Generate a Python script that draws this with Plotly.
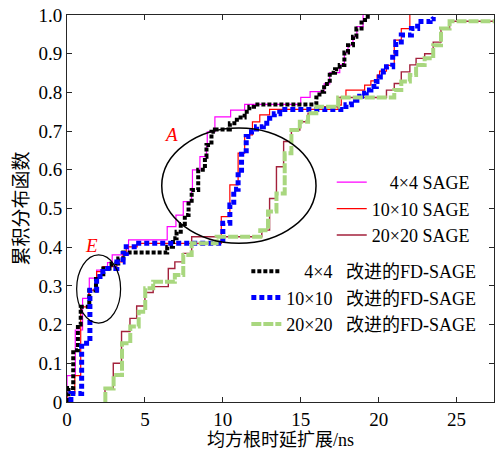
import plotly.graph_objects as go

# ---------------- data ----------------
# 4x4 SAGE (magenta)
x_sage_4 = [0, 0.53, 1.0, 1.43, 1.9, 2.6, 2.9, 3.95, 6.43, 6.99, 7.46, 7.99, 8.05, 8.53, 8.95, 9.0,
            9.49, 10.5, 11.4, 15.0, 15.6, 16.5, 16.86, 17.5, 17.8, 18.03, 18.35, 18.6, 19.0]
y_sage_4 = [0.068, 0.186, 0.268, 0.32, 0.341, 0.36, 0.38, 0.419, 0.453, 0.483, 0.518, 0.552, 0.6, 0.634,
            0.66, 0.698, 0.737, 0.754, 0.769, 0.787, 0.802, 0.822, 0.851, 0.871, 0.903, 0.922, 0.944,
            0.97, 1.0]

# 10x10 SAGE (red)
x_sage_10 = [0, 0.5, 0.88, 1.4, 1.9, 2.3, 3.2, 3.6, 3.8, 4.5, 9.9, 10.45, 10.98, 11.4, 11.9, 12.37,
             13.0, 17.4, 17.6, 17.9, 19.1, 19.5, 19.9, 20.06, 20.5, 21.0, 21.45, 22.0]
y_sage_10 = [0.022, 0.068, 0.246, 0.289, 0.337, 0.35, 0.362, 0.384, 0.401, 0.41, 0.479, 0.561, 0.643,
             0.69, 0.724, 0.742, 0.756, 0.767, 0.789, 0.806, 0.819, 0.83, 0.845, 0.855, 0.87, 0.935,
             0.965, 1.0]

# 20x20 SAGE (dark red)
x_sage_20 = [2.44, 2.97, 3.5, 4.04, 4.47, 5.0, 5.53, 6.5, 6.92, 7.46, 8.0, 12.5, 13.0, 13.44, 13.9,
             14.4, 14.94, 15.47, 16.0, 17.4, 20.5, 21.0, 21.45, 22.0, 22.4, 22.95, 23.5, 24.0, 24.55, 28.0]
y_sage_20 = [0.035, 0.1, 0.182, 0.216, 0.248, 0.283, 0.298, 0.345, 0.362, 0.384, 0.427, 0.444, 0.526,
             0.608, 0.673, 0.703, 0.724, 0.746, 0.763, 0.787, 0.806, 0.823, 0.853, 0.871, 0.888, 0.9,
             0.93, 0.965, 0.984, 0.984]

# 4x4 improved FD-SAGE (black)
x_fd_4 = [0, 0.1, 0.4, 0.7, 0.88, 1.43, 1.86, 2.33, 2.86, 3.29, 3.61, 6.43, 6.8, 7.03, 7.3, 7.56, 7.8,
          8.0, 8.42, 8.85, 8.95, 9.27, 9.49, 10.45, 10.9, 11.4, 11.7, 12.0, 16.0, 16.2, 16.5, 16.86,
          17.2, 17.5, 17.8, 18.03, 18.35, 18.57, 18.9, 19.3]
y_fd_4 = [0.02, 0.036, 0.134, 0.2, 0.246, 0.288, 0.324, 0.345, 0.358, 0.371, 0.386, 0.401, 0.423, 0.44,
          0.46, 0.483, 0.52, 0.548, 0.6, 0.634, 0.664, 0.698, 0.704, 0.72, 0.735, 0.75, 0.763, 0.769,
          0.787, 0.802, 0.822, 0.851, 0.86, 0.871, 0.903, 0.922, 0.944, 0.965, 0.987, 1.0]

# 10x10 improved FD-SAGE (blue)
x_fd_10 = [0.25, 0.94, 1.47, 1.9, 2.3, 3.2, 3.6, 3.8, 4.6, 10.0, 10.45, 10.7, 10.98, 11.2, 11.5, 11.84,
           12.16, 12.6, 13.0, 13.3, 13.65, 17.9, 18.25, 18.6, 18.9, 19.2, 19.5, 19.85, 20.06, 20.3,
           20.5, 20.9, 21.1, 21.45, 22.1, 22.5, 23.3, 23.5]
y_fd_10 = [0.022, 0.152, 0.289, 0.324, 0.345, 0.362, 0.384, 0.401, 0.41, 0.462, 0.509, 0.55, 0.587,
           0.64, 0.686, 0.698, 0.711, 0.72, 0.733, 0.745, 0.756, 0.768, 0.78, 0.79, 0.798, 0.806, 0.815,
           0.828, 0.84, 0.855, 0.866, 0.9, 0.93, 0.948, 0.965, 0.983, 0.99, 0.995]

# 20x20 improved FD-SAGE (light green)
x_fd_20 = [2.46, 2.99, 3.53, 4.06, 4.6, 5.02, 5.53, 6.92, 7.46, 8.0, 9.6, 12.4, 12.9, 13.44, 13.97,
           14.4, 14.94, 15.47, 16.0, 17.4, 21.0, 21.45, 22.0, 22.4, 22.95, 23.5, 24.0, 24.55, 28.0]
y_fd_20 = [0.035, 0.07, 0.152, 0.195, 0.233, 0.294, 0.311, 0.328, 0.38, 0.41, 0.427, 0.444, 0.492,
           0.539, 0.643, 0.703, 0.724, 0.746, 0.763, 0.787, 0.806, 0.828, 0.845, 0.871, 0.888, 0.922,
           0.965, 0.984, 0.984]

x_ticks = [0, 5, 10, 15, 20, 25]
y_ticks = [0, 0.1, 0.2, 0.3, 0.4, 0.5, 0.6, 0.7, 0.8, 0.9, 1.0]
y_tick_text = ["0", "0.1", "0.2", "0.3", "0.4", "0.5", "0.6", "0.7", "0.8", "0.9", "1.0"]

x_title = "均方根时延扩展/ns"
y_title = "累积分布函数"

FONT = "Liberation Serif, Times New Roman, Noto Sans CJK SC"
FS = "\u2007"  # figure space, digit-width padding

series = [
    (x_sage_4, y_sage_4, FS + FS + "4×4 SAGE", dict(color="#FF00FF", width=1.2), "legend"),
    (x_sage_10, y_sage_10, "10×10 SAGE", dict(color="#FF0000", width=1.2), "legend"),
    (x_sage_20, y_sage_20, "20×20 SAGE", dict(color="#A3213B", width=1.4), "legend"),
    (x_fd_4, y_fd_4, FS + FS + "4×4" + FS + " 改进的FD-SAGE", dict(color="#000000", width=4, dash="4px,2px"), "legend2"),
    (x_fd_10, y_fd_10, "10×10" + FS + " 改进的FD-SAGE", dict(color="#0000FF", width=5, dash="5px,3px"), "legend2"),
    (x_fd_20, y_fd_20, "20×20" + FS + " 改进的FD-SAGE", dict(color="#A9D77F", width=4, dash="10px,2px"), "legend2"),
]

fig = go.Figure()
for xs, ys, name, line, lg in series:
    fig.add_trace(go.Scatter(
        x=[xs[0]] + xs, y=[0] + ys, mode="lines", line_shape="hv",
        line=line, name=name, legend=lg,
    ))

# ellipses A and E
fig.add_shape(type="circle", xref="x", yref="y", x0=6.08, x1=15.98, y0=0.41, y1=0.708,
              line=dict(color="black", width=1.5))
fig.add_shape(type="circle", xref="x", yref="y", x0=0.62, x1=3.44, y0=0.204, y1=0.38,
              line=dict(color="black", width=1.2))
fig.add_annotation(x=6.7, y=0.69, text="<i>A</i>", showarrow=False,
                   font=dict(family=FONT, size=19, color="#FF0000"))
fig.add_annotation(x=1.6, y=0.405, text="<i>E</i>", showarrow=False,
                   font=dict(family=FONT, size=19, color="#FF0000"))

axis_common = dict(showline=True, linecolor="#262626", linewidth=1, mirror="ticks",
                   ticks="inside", ticklen=5, tickcolor="#262626", showgrid=False,
                   zeroline=False, automargin=False,
                   tickfont=dict(family=FONT, size=19, color="black"))

fig.update_layout(
    width=495, height=454,
    margin=dict(l=67, r=1, t=15, b=52, autoexpand=False),
    paper_bgcolor="white", plot_bgcolor="white",
    font=dict(family=FONT, size=18, color="black"),
    xaxis=dict(range=[0, 27.4], tickvals=x_ticks, ticktext=[str(v) for v in x_ticks],
               title=dict(text=x_title, font=dict(family=FONT, size=18), standoff=4), **axis_common),
    yaxis=dict(range=[0, 1], tickvals=y_ticks, ticktext=y_tick_text,
               title=dict(text=y_title, font=dict(family=FONT, size=19), standoff=4), **axis_common),
    legend=dict(x=0.62, y=0.615, xanchor="left", yanchor="top", bgcolor="rgba(0,0,0,0)",
                font=dict(family=FONT, size=18), tracegroupgap=0, itemwidth=30),
    legend2=dict(x=0.42, y=0.385, xanchor="left", yanchor="top", bgcolor="rgba(0,0,0,0)",
                 font=dict(family=FONT, size=18), tracegroupgap=0, itemwidth=30),
    showlegend=True,
)

fig.write_html("out.html", config={"displayModeBar": False},
               post_script="document.body.style.margin='0';document.body.style.overflow='hidden';")
